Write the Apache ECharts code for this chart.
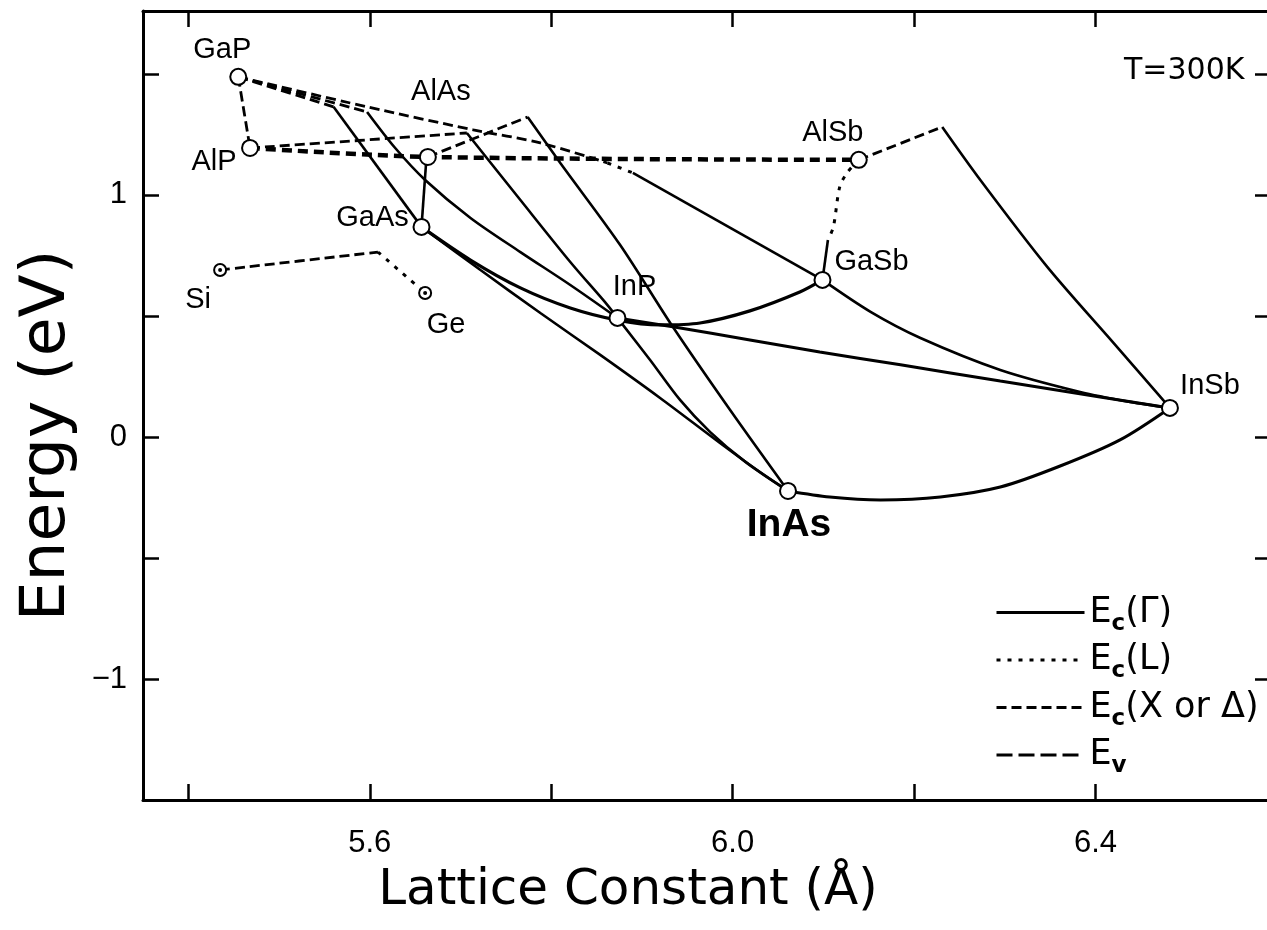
<!DOCTYPE html>
<html><head><meta charset="utf-8">
<script src="https://cdn.jsdelivr.net/npm/echarts@6/dist/echarts.min.js"></script>
<style>html,body{margin:0;padding:0;background:#fff}#c{width:1267px;height:930px}</style>
</head><body><div id="c"></div>
<script>
// ---- compounds (lattice constant in Å, lowest conduction band energy in eV) ----
const compoundNames    = ['GaP', 'AlP', 'AlAs', 'GaAs', 'Si', 'Ge', 'InP', 'GaSb', 'AlSb', 'InSb', 'InAs'];
const latticeConstants = [5.455, 5.468, 5.664, 5.657, 5.435, 5.661, 5.873, 6.099, 6.139, 6.482, 6.061];
const energies         = [1.488, 1.194, 1.157, 0.868, 0.690, 0.595, 0.492, 0.649, 1.145, 0.120, -0.223];
const dottedCompounds  = ['Si', 'Ge'];

// ---- Ec(Γ) curves ----
const gammaGaAsP  = [[5.560,1.364],[5.657,0.868]];
const gammaGaInP  = [[5.597,1.343],[5.628,1.194],[5.661,1.062],[5.711,0.905],[5.766,0.764],[5.821,0.628],[5.873,0.492]];
const gammaAlInP  = [[5.707,1.256],[5.766,0.979],[5.821,0.723],[5.862,0.545],[5.873,0.492]];
const gammaAlGaAs = [[5.657,0.868],[5.662,1.130]];
const gammaAlInAs = [[5.774,1.322],[5.810,1.132],[5.876,0.793],[5.934,0.455],[5.997,0.112],[6.061,-0.223]];
const gammaGaInAs = [[5.657,0.868],[5.722,0.690],[5.788,0.512],[5.854,0.339],[5.920,0.161],[5.986,-0.025],[6.030,-0.145],[6.061,-0.223]];
const gammaGaAsSb = [[5.657,0.868],[5.711,0.731],[5.766,0.616],[5.821,0.533],[5.873,0.483],[5.920,0.463],[5.964,0.471],[6.019,0.521],[6.074,0.599],[6.099,0.649]];
const gammaInAsP  = [[5.873,0.492],[5.909,0.318],[5.942,0.153],[5.975,0.021],[6.014,-0.103],[6.061,-0.223]];
const gammaInPSb  = [[5.873,0.492],[5.934,0.455],[6.019,0.401],[6.096,0.351],[6.185,0.298],[6.295,0.231],[6.405,0.165],[6.482,0.120]];
const gammaGaInSb = [[6.099,0.649],[6.152,0.517],[6.207,0.409],[6.295,0.277],[6.383,0.186],[6.438,0.145],[6.482,0.120]];
const gammaAlInSb = [[6.231,1.281],[6.273,1.062],[6.347,0.702],[6.420,0.388],[6.482,0.120]];
const gammaInAsSb = [[6.061,-0.223],[6.107,-0.248],[6.163,-0.260],[6.229,-0.248],[6.295,-0.207],[6.361,-0.120],[6.427,-0.012],[6.482,0.120]];
const gammaGaPSb  = [[5.890,1.091],[6.099,0.649]];
const gammaAlGaSb = [[6.105,0.814],[6.099,0.649]];

// ---- Ec(L) curves ----
const lGaPSb  = [[5.862,1.132],[5.890,1.091]];
const lAlGaSb = [[6.139,1.145],[6.126,1.091],[6.118,1.033],[6.111,0.868],[6.105,0.814]];
const lSiGe   = [[5.609,0.764],[5.661,0.595]];

// ---- Ec(X or Δ) curves ----
const xGaAsP  = [[5.455,1.488],[5.560,1.364]];
const xGaInP  = [[5.455,1.488],[5.597,1.343]];
const xGaPSb  = [[5.455,1.488],[5.597,1.364],[5.714,1.269],[5.788,1.215],[5.862,1.132]];
const xAlGaP  = [[5.455,1.488],[5.468,1.194]];
const xAlInP  = [[5.468,1.194],[5.707,1.256]];
const xAlInAs = [[5.664,1.157],[5.774,1.322]];
const xAlInSb = [[6.139,1.145],[6.231,1.281]];
const xSiGe   = [[5.435,0.690],[5.609,0.764]];
const xAlPAsSb = [[5.468,1.194],[5.664,1.157],[6.139,1.145]];

// ---- axes ----
const xTickValues  = [5.4, 5.6, 5.8, 6.0, 6.2, 6.4];
const xLabelValues = [5.6, 6.0, 6.4];
const yTickValues  = [-1.5, -1, -0.5, 0, 0.5, 1, 1.5];
const yLabelValues = [-1, 0, 1];

const legendNames = ['Ec(Γ)', 'Ec(L)', 'Ec(X or Δ)', 'Ev'];
const legendRich  = {
  'Ec(Γ)': '{m|E}{s|c}{m|(Γ)}',
  'Ec(L)': '{m|E}{s|c}{m|(L)}',
  'Ec(X or Δ)': '{m|E}{s|c}{m|(X or Δ)}',
  'Ev': '{m|E}{s|v}'
};

// label placement (pixel offsets from each marker), kept apart from the data
const labelOffsets = {
  GaP: [-16, -27], AlP: [-36, 14], AlAs: [13, -65], GaAs: [-49, -9], Si: [-22, 30], Ge: [21, 32],
  InP: [17, -31], GaSb: [49, -18], AlSb: [-26, -27], InSb: [40, -22], InAs: [1, 34]
};

const SANS = "'Liberation Sans', Arial, sans-serif";
const ROUND = "'DejaVu Sans', sans-serif";

const styles = {
  gamma: { color: '#000', width: 2.6, type: 'solid' },
  L: { color: '#000', width: 3, type: [4, 7] },
  X: { color: '#000', width: 2.8, type: [10, 5] },
  Xthick: { color: '#000', width: 4.5, type: [10, 6] },
  V: { color: '#000', width: 3, type: [16, 6] }
};

function line(name, data, style) {
  return { type: 'line', name: name, data: data, symbol: 'none', smooth: 0.3,
           lineStyle: style, itemStyle: { color: '#000' }, z: 2, silent: true };
}

const series = [
  line('Ec(Γ)', gammaGaAsP, styles.gamma),
  line('Ec(Γ)', gammaGaInP, styles.gamma),
  line('Ec(Γ)', gammaAlInP, styles.gamma),
  line('Ec(Γ)', gammaAlGaAs, styles.gamma),
  line('Ec(Γ)', gammaAlInAs, styles.gamma),
  line('Ec(Γ)', gammaGaInAs, styles.gamma),
  line('Ec(Γ)', gammaGaAsSb, Object.assign({}, styles.gamma, { width: 3.2 })),
  line('Ec(Γ)', gammaInAsP, styles.gamma),
  line('Ec(Γ)', gammaInPSb, Object.assign({}, styles.gamma, { width: 3 })),
  line('Ec(Γ)', gammaGaInSb, styles.gamma),
  line('Ec(Γ)', gammaAlInSb, styles.gamma),
  line('Ec(Γ)', gammaInAsSb, Object.assign({}, styles.gamma, { width: 3 })),
  line('Ec(Γ)', gammaGaPSb, styles.gamma),
  line('Ec(Γ)', gammaAlGaSb, styles.gamma),
  line('Ec(L)', lGaPSb, styles.L),
  line('Ec(L)', lAlGaSb, styles.L),
  line('Ec(L)', lSiGe, styles.L),
  line('Ec(X or Δ)', xGaAsP, styles.X),
  line('Ec(X or Δ)', xGaInP, styles.X),
  line('Ec(X or Δ)', xGaPSb, styles.X),
  line('Ec(X or Δ)', xAlGaP, styles.X),
  line('Ec(X or Δ)', xAlInP, styles.X),
  line('Ec(X or Δ)', xAlInAs, styles.X),
  line('Ec(X or Δ)', xAlInSb, styles.X),
  line('Ec(X or Δ)', xSiGe, styles.X),
  line('Ec(X or Δ)', xAlPAsSb, styles.Xthick),
  line('Ev', [], styles.V),
  {
    type: 'scatter', name: 'compounds', z: 5, silent: true,
    data: compoundNames.map((n, i) => ({
      name: n,
      value: [latticeConstants[i], energies[i]],
      symbolSize: dottedCompounds.includes(n) ? 12 : 16,
      label: n === 'InAs'
        ? { offset: labelOffsets[n], fontSize: 39, fontWeight: 'bold' }
        : { offset: labelOffsets[n] }
    })),
    symbol: 'emptyCircle',
    itemStyle: { color: '#000', borderColor: '#000', borderWidth: 2.6, opacity: 1 },
    label: { show: true, position: 'inside', formatter: p => p.name, color: '#000',
             fontSize: 29, fontFamily: SANS, align: 'center', verticalAlign: 'middle' }
  },
  {
    type: 'scatter', name: 'centres', z: 6, silent: true, symbol: 'circle', symbolSize: 4,
    itemStyle: { color: '#000', opacity: 1 },
    data: compoundNames.map((n, i) => [latticeConstants[i], energies[i], n])
      .filter(d => dottedCompounds.includes(d[2])).map(d => [d[0], d[1]])
  }
];

const frameLine = { show: true, onZero: false, lineStyle: { color: '#000', width: 3 } };
const tickStyle = { color: '#000', width: 2.5 };

const option = {
  animation: false,
  backgroundColor: '#fff',
  grid: { left: 143, top: 11, width: 1124, height: 789 },
  xAxis: [
    { type: 'value', min: 5.35, max: 6.589, position: 'bottom',
      axisLine: frameLine,
      axisTick: { show: true, inside: true, length: 16, lineStyle: tickStyle, customValues: xTickValues },
      axisLabel: { customValues: xLabelValues, formatter: v => v.toFixed(1), fontSize: 31,
                   fontFamily: SANS, color: '#000', margin: 28 },
      splitLine: { show: false },
      name: 'Lattice Constant (Å)', nameLocation: 'middle', nameGap: 66,
      nameTextStyle: { fontSize: 50, fontFamily: ROUND, color: '#000', padding: [0, 154, 0, 0] } },
    { type: 'value', min: 5.35, max: 6.589, position: 'top',
      axisLine: frameLine,
      axisTick: { show: true, inside: true, length: 16, lineStyle: tickStyle, customValues: xTickValues },
      axisLabel: { show: false }, splitLine: { show: false } }
  ],
  yAxis: [
    { type: 'value', min: -1.5, max: 1.76, position: 'left',
      axisLine: frameLine,
      axisTick: { show: true, inside: true, length: 16, lineStyle: tickStyle, customValues: yTickValues },
      axisLabel: { customValues: yLabelValues, formatter: v => (v < 0 ? '\u2212' + Math.abs(v) : String(v)),
                   fontSize: 31, fontFamily: SANS, color: '#000', margin: 16 },
      splitLine: { show: false },
      name: 'Energy (eV)', nameLocation: 'middle', nameGap: 64,
      nameTextStyle: { fontSize: 63, fontFamily: ROUND, color: '#000', padding: [0, 60, 0, 0] } },
    { type: 'value', min: -1.5, max: 1.76, position: 'right',
      axisLine: { show: false },
      axisTick: { show: true, inside: true, length: 12, lineStyle: tickStyle, customValues: yTickValues },
      axisLabel: { show: false }, splitLine: { show: false } }
  ],
  legend: {
    orient: 'vertical', left: 995, top: 595, padding: 0, itemWidth: 88, itemHeight: 14, itemGap: 7,
    data: legendNames, selectedMode: false,
    itemStyle: { opacity: 0 },
    lineStyle: { width: 3 },
    formatter: n => legendRich[n],
    textStyle: { color: '#000', rich: {
      m: { fontSize: 35, fontFamily: ROUND, color: '#000', lineHeight: 46 },
      s: { fontSize: 23, fontFamily: ROUND, fontWeight: 'bold', color: '#000', lineHeight: 23, verticalAlign: 'bottom' }
    } }
  },
  graphic: [
    { type: 'text', left: 1124, top: 56, silent: true,
      style: { text: 'T=300K', fontSize: 30, fontFamily: ROUND, fill: '#000' } }
  ],
  series: series
};

const chart = echarts.init(document.getElementById('c'), null, { renderer: 'canvas' });
chart.setOption(option);
</script>
</body></html>
